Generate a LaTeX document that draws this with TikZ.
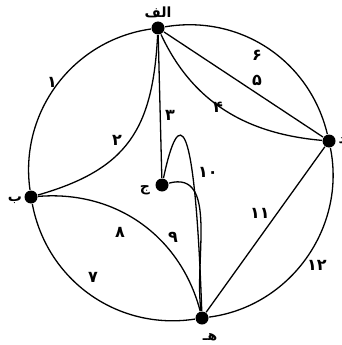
\documentclass[tikz,border=0pt]{standalone}
\usepackage{fontspec}
\newfontfamily\farsi[Script=Arabic]{DejaVu Sans}
\TeXXeTstate=1
\begin{document}
\begin{tikzpicture}[x=1pt,y=1pt,line width=1.3pt,
vert/.style={circle,fill=black,inner sep=0pt,minimum size=13pt},
lbl/.style={font=\farsi\bfseries\fontsize{16}{16}\selectfont,inner sep=1pt},
vname/.style={font=\farsi\bfseries\fontsize{14}{14}\selectfont,inner sep=1pt}]
\useasboundingbox (0,0) rectangle (341,-345);
\clip (0,0) rectangle (341,-345);
% vertices
\node[vert] (alef) at (158,-28) {};
\node[vert] (be) at (31,-197) {};
\node[vert] (jim) at (162,-185) {};
\node[vert] (dal) at (329,-141) {};
\node[vert] (he) at (202,-318) {};
\node[vname] (lalef) at (158,-12) {\beginR الف\endR};
\node[vname] (lbe) at (15,-200) {ب};
\node[vname] (ljim) at (145,-190) {ج};
\node[vname,anchor=west] (ldal) at (337,-141) {د};
\node[vname] (lhe) at (210,-337) {\beginR هـ\endR};
% edges
\draw (be) to[bend left=45] (alef);
\draw (alef) to[out=-93,in=16,looseness=1.2] (be);
\draw (alef) -- (jim);
\draw (alef) to[out=-65,in=175] (dal);
\draw (alef) -- (dal);
\draw (alef) to[bend left=43] (dal);
\draw (be) to[bend right=44] (he);
\draw (be) to[bend left=40] (he);
\draw (jim) to[out=15,in=98] (he);
\draw (jim) to[out=78,in=92,out distance=75pt,in distance=200pt] (he);
\draw (he) -- (dal);
\draw (dal) to[bend left=47] (he);
% edge numbers
\node[lbl] (n1) at (52,-82) {۱};
\node[lbl] (n2) at (117,-140) {۲};
\node[lbl] (n3) at (170,-115) {۳};
\node[lbl] (n4) at (218,-107) {۴};
\node[lbl] (n5) at (257,-80) {۵};
\node[lbl] (n6) at (257,-55) {۶};
\node[lbl] (n7) at (93,-277) {۷};
\node[lbl] (n8) at (120,-232) {۸};
\node[lbl] (n9) at (173,-237) {۹};
\node[lbl] (n10) at (208,-172) {۱۰};
\node[lbl] (n11) at (260,-213) {۱۱};
\node[lbl] (n12) at (317,-265) {۱۲};
\end{tikzpicture}
\end{document}
